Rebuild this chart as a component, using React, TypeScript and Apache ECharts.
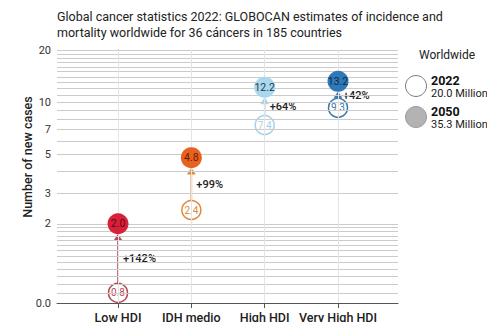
import React, { useEffect, useRef } from 'react';
import * as echarts from 'echarts';

const categories = ['Low HDI', 'IDH medio', 'High HDI', 'Very High HDI'];
const cases2022 = [0.8, 2.4, 7.4, 9.3];
const cases2050 = [2.0, 4.8, 12.2, 13.2];
const changeLabels = ['+142%', '+99%', '+64%', '+42%'];
const fill2050 = ['#d8203a', '#e8621f', '#a9d8ee', '#2f78b7'];
const text2050 = ['#5c0a14', '#6e1a08', '#1d3c4c', '#0e2c48'];
const stroke2022 = ['#b54a56', '#e0893c', '#a6d2e6', '#3b77ab'];
const yMajorTicks = [2, 3, 5, 7, 10, 20];
const yAxisMin = 0.7;
const yGridValues = [
  0.8, 0.9, 1.0, 1.1, 1.2, 1.3, 1.4, 1.5, 1.6, 1.7, 1.8, 1.9,
  2, 3, 4, 5, 6, 7, 8, 9, 10,
  11, 12, 13, 14, 15, 16, 17, 18, 19, 20,
];
const legendTotals = [
  { year: '2022', total: '20.0 Million' },
  { year: '2050', total: '35.3 Million' },
];

const FONT = 'Roboto, "Noto Sans", sans-serif';

export default function App() {
  const ref = useRef<HTMLDivElement>(null);

  useEffect(() => {
    if (!ref.current) return;
    const chart = echarts.init(ref.current, null, { renderer: 'svg' });
    const catIdx = categories.map((_, i) => i);

    const option: any = {
      animation: false,
      textStyle: { fontFamily: FONT },
      title: {
        text: 'Global cancer statistics 2022: GLOBOCAN estimates of incidence and\nmortality worldwide for 36 cáncers in 185 countries',
        left: 52,
        top: 3,
        textStyle: { fontSize: 12.5, fontWeight: 'normal', color: '#222', lineHeight: 16, fontFamily: FONT },
      },
      grid: { left: 57, right: 97, top: 50, bottom: 27 },
      xAxis: {
        type: 'value',
        min: -0.832,
        max: 3.818,
        axisLine: { show: true, lineStyle: { color: '#555', width: 1 } },
        axisTick: { show: true, customValues: catIdx, length: 5, lineStyle: { color: '#555' } },
        axisLabel: {
          customValues: catIdx,
          formatter: (v: number) => categories[Math.round(v)] ?? '',
          color: '#222',
          fontSize: 12.5,
          fontWeight: 500,
          margin: 8,
          fontFamily: FONT,
        },
        splitLine: { show: false },
      },
      yAxis: {
        type: 'log',
        logBase: 10,
        min: yAxisMin,
        max: 20,
        axisLine: { show: true, lineStyle: { color: '#555', width: 1 } },
        axisTick: { show: true, customValues: yGridValues, length: 5, lineStyle: { color: '#555' } },
        axisLabel: {
          customValues: [yAxisMin, ...yMajorTicks],
          formatter: (v: number) => (Math.abs(v - yAxisMin) < 0.01 ? '0.0' : String(Math.round(v))),
          color: '#333',
          fontSize: 11,
          margin: 6,
          fontFamily: FONT,
        },
        splitLine: { show: false },
      },
      graphic: [
        {
          type: 'text',
          x: 27,
          y: 157,
          rotation: Math.PI / 2,
          style: {
            text: 'Number of new cases',
            align: 'center',
            verticalAlign: 'middle',
            fontSize: 12.5,
            fontWeight: 500,
            fill: '#222',
            fontFamily: FONT,
          },
        },
        {
          type: 'text',
          left: 419,
          top: 49,
          style: { text: 'Worldwide', fontSize: 12, fill: '#222', fontFamily: FONT },
        },
        {
          type: 'circle',
          shape: { cx: 416, cy: 86, r: 10.5 },
          style: { fill: '#fff', stroke: '#7a7a7a', lineWidth: 1 },
        },
        {
          type: 'text',
          left: 431,
          top: 74,
          style: { text: legendTotals[0].year, fontSize: 12.5, lineHeight: 13, fontWeight: 'bold', fill: '#111', fontFamily: FONT },
        },
        {
          type: 'text',
          left: 431,
          top: 88,
          style: { text: legendTotals[0].total, fontSize: 11, lineHeight: 11, fill: '#222', fontFamily: FONT },
        },
        {
          type: 'circle',
          shape: { cx: 416, cy: 117, r: 10.5 },
          style: { fill: '#b3b3b3', stroke: '#999', lineWidth: 1 },
        },
        {
          type: 'text',
          left: 431,
          top: 105,
          style: { text: legendTotals[1].year, fontSize: 12.5, lineHeight: 13, fontWeight: 'bold', fill: '#111', fontFamily: FONT },
        },
        {
          type: 'text',
          left: 431,
          top: 119,
          style: { text: legendTotals[1].total, fontSize: 11, lineHeight: 11, fill: '#222', fontFamily: FONT },
        },
      ],
      series: [
        {
          type: 'scatter',
          name: 'grid',
          data: [],
          silent: true,
          z: 1,
          markLine: {
            silent: true,
            symbol: ['none', 'none'],
            label: { show: false },
            animation: false,
            data: [
              ...yGridValues.map((v) => ({ yAxis: v, lineStyle: { color: '#cbcbcb', width: 1, type: 'solid' } })),
              ...catIdx.map((v) => ({ xAxis: v, lineStyle: { color: '#e4e4e4', width: 1, type: 'solid' } })),
            ],
          },
        },
        {
          type: 'custom',
          name: 'arrows',
          z: 3,
          silent: true,
          data: catIdx.map((i) => [i, cases2022[i], cases2050[i]]),
          encode: { x: 0, y: [1, 2] },
          renderItem: (params: any, api: any) => {
            const i = params.dataIndex;
            const x = api.value(0);
            const p1 = api.coord([x, api.value(1)]);
            const p2 = api.coord([x, api.value(2)]);
            const yStart = p1[1] - 9.5;
            const tipY = p2[1] + 10.5;
            const gap = yStart - tipY;
            const ah = Math.min(6, Math.max(gap, 4));
            const aw = 4;
            const color = stroke2022[i];
            return {
              type: 'group',
              children: [
                {
                  type: 'line',
                  shape: { x1: p1[0], y1: yStart, x2: p1[0], y2: tipY + ah - 1 },
                  style: { stroke: color, lineWidth: 1.6 },
                },
                {
                  type: 'polygon',
                  shape: { points: [[p1[0], tipY], [p1[0] - aw, tipY + ah], [p1[0] + aw, tipY + ah]] },
                  style: { fill: color, stroke: color, lineWidth: 0.5 },
                },
                {
                  type: 'text',
                  x: p1[0] + 5,
                  y: (yStart + tipY) / 2,
                  style: {
                    text: changeLabels[i],
                    fill: '#222',
                    fontSize: 11,
                    fontWeight: 500,
                    fontFamily: FONT,
                    align: 'left',
                    verticalAlign: 'middle',
                  },
                },
              ],
            };
          },
        },
        {
          type: 'scatter',
          name: '2022',
          z: 4,
          symbol: 'circle',
          symbolSize: 19,
          data: catIdx.map((i) => ({
            value: [i, cases2022[i]],
            itemStyle: { color: '#fff', borderColor: stroke2022[i], borderWidth: 1.5, opacity: 1 },
            label: { color: stroke2022[i] },
          })),
          label: {
            show: true,
            position: 'inside',
            fontSize: 10,
            fontFamily: FONT,
            formatter: (p: any) => p.value[1].toFixed(1),
          },
        },
        {
          type: 'scatter',
          name: '2050',
          z: 5,
          symbol: 'circle',
          symbolSize: 21,
          data: catIdx.map((i) => ({
            value: [i, cases2050[i]],
            itemStyle: { color: fill2050[i], opacity: 1 },
            label: { color: text2050[i] },
          })),
          label: {
            show: true,
            position: 'inside',
            fontSize: 10.5,
            fontFamily: FONT,
            formatter: (p: any) => p.value[1].toFixed(1),
          },
        },
      ],
    };

    chart.setOption(option);
    return () => chart.dispose();
  }, []);

  return <div ref={ref} style={{ width: 495, height: 330, margin: -8 }} />;
}
